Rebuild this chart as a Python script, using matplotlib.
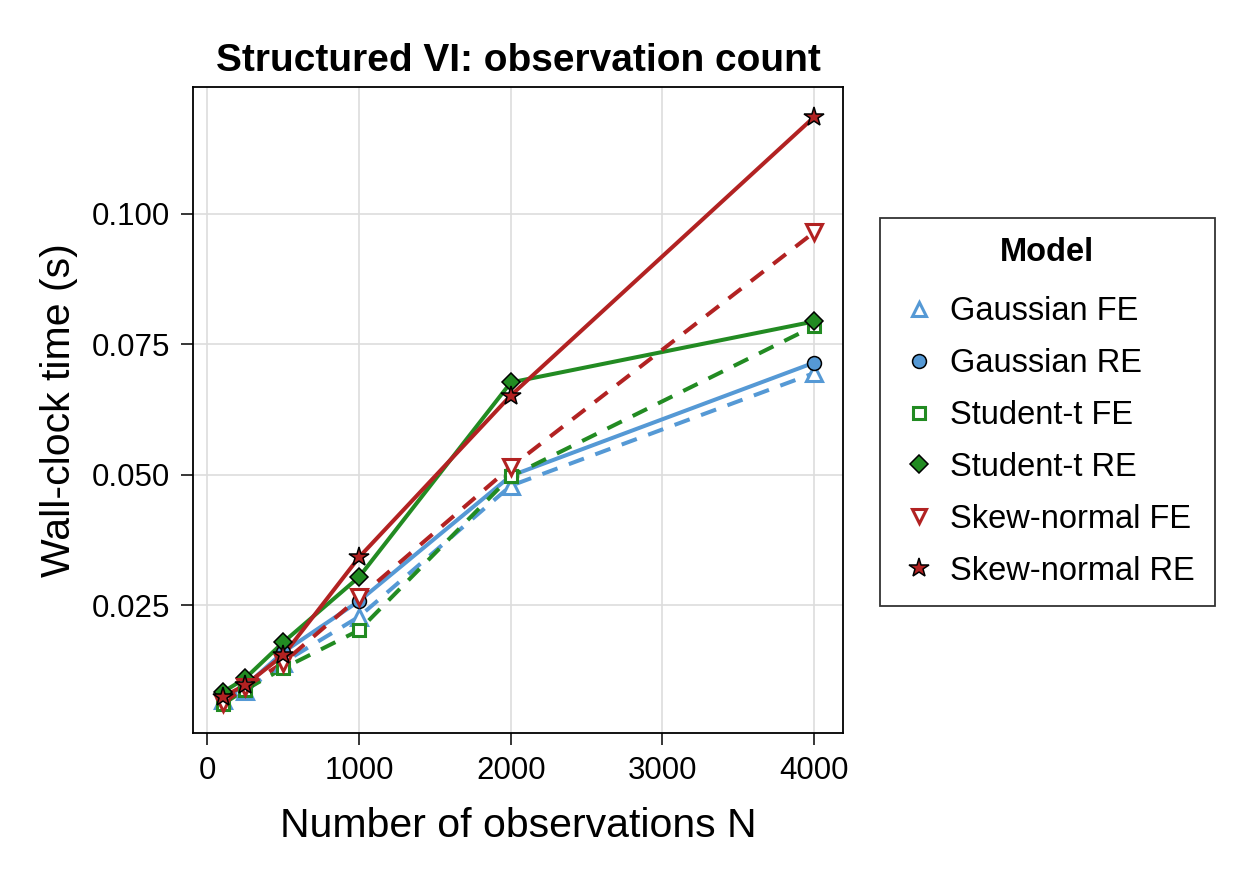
import numpy as np
import matplotlib.pyplot as plt
from matplotlib.lines import Line2D
from matplotlib.ticker import FormatStrFormatter

plt.rcParams['font.family'] = ['Liberation Sans', 'DejaVu Sans']

# data
n_obs = [100, 250, 500, 1000, 2000, 4000]

gauss_fe = [0.0068, 0.0085, 0.0140, 0.0228, 0.0479, 0.0695]
gauss_re = [0.0072, 0.0095, 0.0160, 0.0258, 0.0498, 0.0715]
stud_fe = [0.0060, 0.0088, 0.0129, 0.0202, 0.0497, 0.0785]
stud_re = [0.0083, 0.0110, 0.0179, 0.0304, 0.0677, 0.0794]
skew_fe = [0.0062, 0.0093, 0.0140, 0.0265, 0.0515, 0.0965]
skew_re = [0.0074, 0.0097, 0.0154, 0.0342, 0.0652, 0.1186]

labels = ["Gaussian FE", "Gaussian RE", "Student-t FE", "Student-t RE",
          "Skew-normal FE", "Skew-normal RE"]

blue = "#5599d5"
green = "#228b22"
red = "#b22222"

series = [
    (gauss_fe, blue, "^", "--", False),
    (gauss_re, blue, "o", "-", True),
    (stud_fe, green, "s", "--", False),
    (stud_re, green, "D", "-", True),
    (skew_fe, red, "v", "--", False),
    (skew_re, red, "*", "-", True),
]
msize = {"^": 11, "o": 10, "s": 9, "D": 9, "v": 11, "*": 15}

fig = plt.figure(figsize=(12.5, 8.75), dpi=100)
ax = fig.add_axes([0.1544, 0.1623, 0.52, 0.738])

handles = []
for (vals, col, mk, ls, filled), lab in zip(series, labels):
    ax.plot(n_obs, vals, color=col, lw=2.9, ls=ls, dashes=(4, 3) if ls == "--" else (None, None),
            zorder=2)
    if filled:
        ax.plot(n_obs, vals, ls="none", marker=mk, ms=msize[mk], mfc=col, mec="black",
                mew=1.1, zorder=3)
        h = Line2D([], [], ls="none", marker=mk, ms=msize[mk], mfc=col,
                   mec="black", mew=1.1)
    else:
        ax.plot(n_obs, vals, ls="none", marker=mk, ms=msize[mk], mfc="white", mec=col,
                mew=2.2, zorder=3)
        h = Line2D([], [], ls="none", marker=mk, ms=msize[mk] * 0.92, mfc="white",
                   mec=col, mew=2.2)
    handles.append(h)

ax.set_xlim(-95, 4190)
ax.set_ylim(0.0005, 0.1243)
ax.set_xticks([0, 1000, 2000, 3000, 4000])
ax.set_yticks([0.025, 0.050, 0.075, 0.100])
ax.yaxis.set_major_formatter(FormatStrFormatter("%.3f"))
ax.grid(True, color="#dddddd", lw=1.2)
ax.set_axisbelow(True)
ax.tick_params(labelsize=22.5, length=8.5, width=1.1, direction="out", pad=8)
for s in ax.spines.values():
    s.set_linewidth(1.3)

ax.set_xlabel("Number of observations N", fontsize=29.5, labelpad=15)
ax.set_ylabel("Wall-clock time (s)", fontsize=29.5, labelpad=10)
ax.set_title("Structured VI: observation count", fontsize=28, fontweight="bold", pad=12)

leg = fig.legend(handles, labels, loc="upper left", bbox_to_anchor=(0.704, 0.751),
                 fontsize=23.5, title="Model", title_fontproperties={"weight": "bold", "size": 23.5},
                 frameon=True, fancybox=False, edgecolor="black", borderpad=0.6,
                 labelspacing=0.64, handletextpad=0.35, handlelength=1.2, borderaxespad=0)
leg.get_frame().set_linewidth(1.3)
# a bit more room between the title and the first entry
leg._legend_box.sep = 20

fig.savefig("out.png", dpi=100)
